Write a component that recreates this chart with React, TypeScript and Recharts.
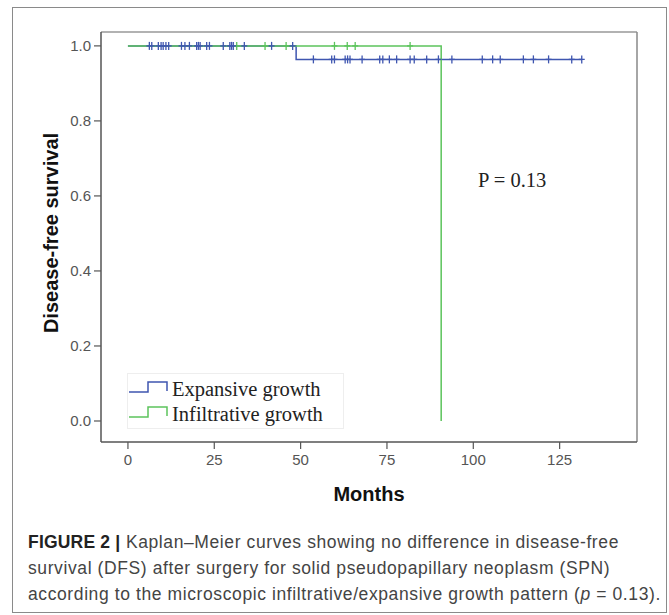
import React from 'react';
import { ComposedChart, Line, Scatter, XAxis, YAxis, Legend, ReferenceLine } from 'recharts';

// Kaplan-Meier step curves (months, survival proportion)
const expansiveTimes = [0, 48.7, 131.4];
const expansiveSurvival = [1, 0.964, 0.964];
const infiltrativeTimes = [0, 90.7];
const infiltrativeSurvival = [1, 0];

// censored observations (months)
const expansiveCensored = [
  6.2, 6.9, 8.8, 9.6, 10.2, 11.0, 11.8, 15.5, 16.5, 17.8, 19.9, 20.4, 20.9, 22.8, 23.6,
  27.6, 29.5, 30.0, 30.5, 33.7, 41.6, 47.7,
  53.7, 59.0, 59.8, 62.9, 63.6, 64.3, 67.8, 72.9, 73.8, 75.7, 77.8, 81.7, 82.9, 86.5,
  89.9, 93.8, 102.6, 105.6, 107.8, 114.5, 117.4, 121.8, 128.5, 131.4,
];
const infiltrativeCensored = [31.5, 39.7, 45.8, 59.8, 63.5, 65.8, 81.7];

const xTicks = [0, 25, 50, 75, 100, 125];
const yTicks = [0, 0.2, 0.4, 0.6, 0.8, 1.0];
const seriesNames = ['Expansive growth', 'Infiltrative growth'];

const X_DOMAIN: [number, number] = [-7.8, 147.4];
const Y_DOMAIN: [number, number] = [-0.056, 1.037];

const BLUE = '#3f56b0';
const GREEN = '#5cc45c';

const toCurve = (ts: number[], ss: number[]) => ts.map((t, i) => ({ t, s: ss[i] }));

// survival value at time t on a step curve
const stepAt = (ts: number[], ss: number[], t: number) => {
  let v = ss[0];
  ts.forEach((x, i) => {
    if (t >= x) v = ss[i];
  });
  return v;
};

const expansiveCurve = toCurve(expansiveTimes, expansiveSurvival);
const infiltrativeCurve = toCurve(infiltrativeTimes, infiltrativeSurvival);
const expansiveMarks = expansiveCensored.map(t => ({ t, s: stepAt(expansiveTimes, expansiveSurvival, t) }));
const infiltrativeMarks = infiltrativeCensored.map(t => ({ t, s: stepAt(infiltrativeTimes, infiltrativeSurvival, t) }));

const plusShape = (color: string) => (props: any) => {
  const { cx, cy } = props;
  return (
    <g>
      <line x1={cx} x2={cx} y1={cy - 4} y2={cy + 4} stroke={color} strokeWidth={1.3} />
      <line x1={cx - 3} x2={cx + 3} y1={cy} y2={cy} stroke={color} strokeWidth={1.3} />
    </g>
  );
};

const LegendBox = () => {
  const colors = [BLUE, GREEN];
  return (
    <svg width={215} height={54} style={{ display: 'block' }}>
      {seriesNames.map((name, i) => {
        const base = 18 + i * 25;
        return (
          <g key={name}>
            <path
              d={`M1,${base} H20 V${base - 10} H39 V${base - 1}`}
              fill="none"
              stroke={colors[i]}
              strokeWidth={1.5}
            />
            <text x={44} y={base + 4} fontSize={20.5} fontFamily="'Liberation Serif', 'DejaVu Serif', serif" fill="#222">
              {name}
            </text>
          </g>
        );
      })}
    </svg>
  );
};

const font = "'Liberation Sans', Arial, sans-serif";

const App: React.FC = () => {
  return (
    <div style={{ position: 'absolute', left: 0, top: 0, width: 669, height: 615, background: '#fff', fontFamily: font }}>
      <div
        style={{
          position: 'absolute',
          left: 12,
          top: 7,
          width: 655,
          height: 606,
          boxSizing: 'border-box',
          border: '1.5px solid #8a8a8a',
        }}
      />
      <div style={{ position: 'absolute', left: 0, top: 0 }}>
        <ComposedChart width={669} height={470} margin={{ top: 32, right: 32, left: 0, bottom: 0 }}>
          <XAxis
            dataKey="t"
            type="number"
            domain={X_DOMAIN}
            ticks={xTicks}
            allowDataOverflow
            height={28}
            tickSize={7}
            tickMargin={5}
            stroke="#555"
            axisLine={{ stroke: '#555', strokeWidth: 1.5 }}
            tickLine={{ stroke: '#555', strokeWidth: 1.2 }}
            tick={{ fill: '#555', fontSize: 15, fontFamily: font }}
          />
          <YAxis
            type="number"
            domain={Y_DOMAIN}
            ticks={yTicks}
            allowDataOverflow
            width={101}
            tickSize={7}
            tickMargin={3}
            tickFormatter={(v: number) => v.toFixed(1)}
            axisLine={{ stroke: '#555', strokeWidth: 1.5 }}
            tickLine={{ stroke: '#555', strokeWidth: 1.2 }}
            tick={{ fill: '#555', fontSize: 15, fontFamily: font }}
          />
          {/* top and right edges of the plot frame */}
          <ReferenceLine y={Y_DOMAIN[1]} stroke="#999" strokeWidth={1.3} ifOverflow="visible" />
          <ReferenceLine x={X_DOMAIN[1]} stroke="#888" strokeWidth={1.5} ifOverflow="visible" />
          <Line
            data={expansiveCurve}
            dataKey="s"
            type="stepAfter"
            stroke={BLUE}
            strokeWidth={1.5}
            dot={false}
            isAnimationActive={false}
            name={seriesNames[0]}
          />
          <Line
            data={infiltrativeCurve}
            dataKey="s"
            type="stepAfter"
            stroke={GREEN}
            strokeWidth={1.5}
            dot={false}
            isAnimationActive={false}
            name={seriesNames[1]}
          />
          <Scatter data={infiltrativeMarks} dataKey="s" shape={plusShape(GREEN)} isAnimationActive={false} />
          <Scatter data={expansiveMarks} dataKey="s" shape={plusShape(BLUE)} isAnimationActive={false} />
          <Legend
            layout="horizontal"
            verticalAlign="middle"
            content={() => <LegendBox />}
            wrapperStyle={{ left: 127, top: 373, width: 215, height: 54, border: '1px solid #eeeeee' }}
          />
        </ComposedChart>
      </div>
      <div
        style={{
          position: 'absolute',
          left: 50.5,
          top: 233,
          transform: 'translate(-50%, -50%) rotate(-90deg)',
          whiteSpace: 'nowrap',
          fontSize: 20,
          fontWeight: 'bold',
          color: '#111',
          lineHeight: '20px',
        }}
      >
        Disease-free survival
      </div>
      <div
        style={{
          position: 'absolute',
          left: 369,
          top: 484,
          transform: 'translateX(-50%)',
          whiteSpace: 'nowrap',
          fontSize: 20,
          fontWeight: 'bold',
          color: '#111',
          lineHeight: '20px',
        }}
      >
        Months
      </div>
      <div
        style={{
          position: 'absolute',
          left: 478,
          top: 170,
          whiteSpace: 'nowrap',
          fontSize: 20.5,
          fontFamily: "'Liberation Serif', serif",
          color: '#222',
          lineHeight: '20px',
        }}
      >
        P = 0.13
      </div>
      <div
        style={{
          position: 'absolute',
          left: 28,
          top: 529,
          width: 640,
          whiteSpace: 'nowrap',
          fontSize: 17.5,
          letterSpacing: 0.6,
          lineHeight: '26px',
          color: '#444',
        }}
      >
        <span style={{ fontWeight: 'bold', color: '#222', letterSpacing: 0.2 }}>FIGURE 2 |</span> Kaplan–Meier curves showing no difference in disease-free
        <br />
        survival (DFS) after surgery for solid pseudopapillary neoplasm (SPN)
        <br />
        according to the microscopic infiltrative/expansive growth pattern (<i>p</i> = 0.13).
      </div>
    </div>
  );
};

export default App;
